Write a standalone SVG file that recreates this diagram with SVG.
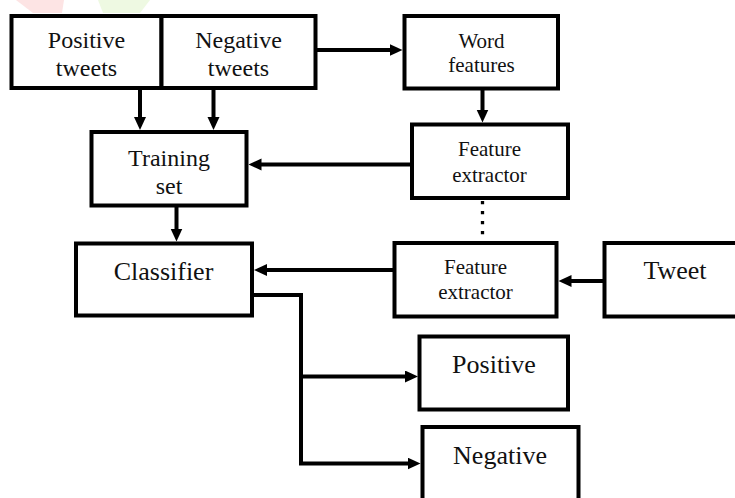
<svg xmlns="http://www.w3.org/2000/svg" width="735" height="498" viewBox="0 0 735 498">
  <style>
    .box { fill: #ffffff; stroke: #000000; stroke-width: 4; }
    .t { font-family: "Liberation Serif", "Times New Roman", serif; fill: #111111; text-anchor: middle; }
    .s24 { font-size: 24px; }
    .s21 { font-size: 21px; }
    .s26 { font-size: 26px; }
    .conn { fill: none; stroke: #000000; stroke-width: 4; }
    .dot { fill: none; stroke: #000000; stroke-width: 3.3; stroke-dasharray: 3.3 6.7; }
  </style>
  <defs>
    <marker id="arr" markerUnits="userSpaceOnUse" markerWidth="14" markerHeight="13" refX="3" refY="6" orient="auto">
      <path d="M0,0 L13,6 L0,12 z" fill="#000000"/>
    </marker>
  </defs>
  <rect width="735" height="498" fill="#ffffff"/>
  <g id="watermark">
    <polygon points="16,0 64,0 62,13 33,13" fill="#fde4e4"/>
    <polygon points="98,0 150,0 140,13 103,13" fill="#eef9e2"/>
  </g>

  <g id="connectors">
    <path class="conn" d="M140,88 V120" marker-end="url(#arr)"/>
    <path class="conn" d="M213.5,88 V120" marker-end="url(#arr)"/>
    <path class="conn" d="M315.5,50 H392.5" marker-end="url(#arr)"/>
    <path class="conn" d="M482.5,88.5 V112.5" marker-end="url(#arr)"/>
    <path class="conn" d="M412,164.5 H258.5" marker-end="url(#arr)"/>
    <path class="conn" d="M176.5,205.5 V231.5" marker-end="url(#arr)"/>
    <path class="conn" d="M394.5,270 H264" marker-end="url(#arr)"/>
    <path class="conn" d="M604.5,281 H568.5" marker-end="url(#arr)"/>
    <path class="dot" d="M482.5,201 V240"/>
    <path class="conn" d="M252,295 H301 V463.5 H410.5" marker-end="url(#arr)"/>
    <path class="conn" d="M301,376.5 H408" marker-end="url(#arr)"/>
  </g>

  <g id="positive-tweets">
    <rect class="box" x="11.5" y="16" width="150" height="72"/>
    <text class="t s24" x="86.5" y="48">Positive</text>
    <text class="t s24" x="86.5" y="76">tweets</text>
  </g>
  <g id="negative-tweets">
    <rect class="box" x="161.5" y="16" width="154" height="72"/>
    <text class="t s24" x="238.5" y="48">Negative</text>
    <text class="t s24" x="238.5" y="76">tweets</text>
  </g>
  <g id="word-features">
    <rect class="box" x="404.5" y="16" width="153.5" height="72.5"/>
    <text class="t s21" x="481.5" y="47.5">Word</text>
    <text class="t s21" x="481.5" y="71.5">features</text>
  </g>
  <g id="feature-extractor-1">
    <rect class="box" x="412" y="124.5" width="156" height="73.5"/>
    <text class="t s21" x="489.5" y="156">Feature</text>
    <text class="t s21" x="489.5" y="181.5">extractor</text>
  </g>
  <g id="training-set">
    <rect class="box" x="91.5" y="132" width="155" height="73.5"/>
    <text class="t s24" x="169" y="165.5">Training</text>
    <text class="t s24" x="169" y="194">set</text>
  </g>
  <g id="classifier">
    <rect class="box" x="76" y="243.5" width="176" height="72"/>
    <text class="t s26" x="163.5" y="280">Classifier</text>
  </g>
  <g id="feature-extractor-2">
    <rect class="box" x="394.5" y="243" width="162" height="73.5"/>
    <text class="t s21" x="475.5" y="273.5">Feature</text>
    <text class="t s21" x="475.5" y="299">extractor</text>
  </g>
  <g id="tweet">
    <rect class="box" x="604.5" y="243" width="160" height="73.5"/>
    <text class="t s26" x="675" y="278.5">Tweet</text>
  </g>
  <g id="positive">
    <rect class="box" x="419.5" y="336.5" width="148.5" height="73"/>
    <text class="t s26" x="494" y="372.5">Positive</text>
  </g>
  <g id="negative">
    <rect class="box" x="422.5" y="427" width="156" height="100"/>
    <text class="t s26" x="500" y="463.5">Negative</text>
  </g>
</svg>
